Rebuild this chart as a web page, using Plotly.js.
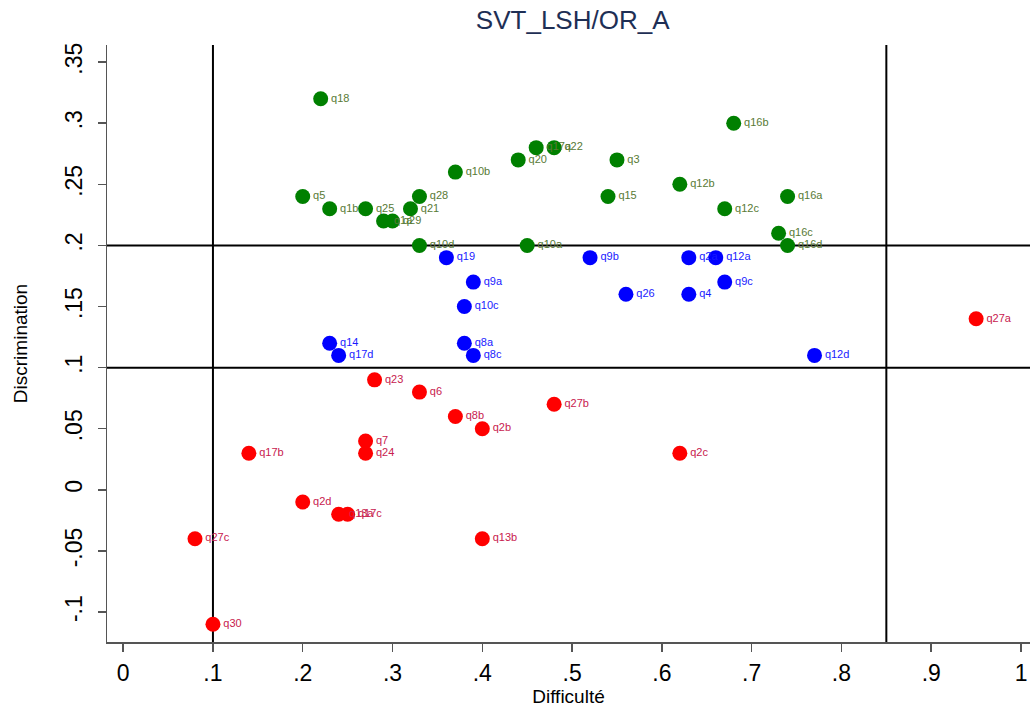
<!DOCTYPE html>
<html><head><meta charset="utf-8">
<script src="https://cdn.plot.ly/plotly-3.0.1.min.js"></script>
<style>body{margin:0;background:#fff}#chart{width:1030px;height:707px}</style>
</head><body><div id="chart"></div>
<script>
// Green group (discrimination >= .2)
const greenLabels = ["q18","q16b","q17a","q22","q20","q3","q10b","q12b","q5","q28","q15","q16a","q1b","q25","q21","q12c","q1a","q29","q16c","q10d","q10a","q16d"];
const greenX = [0.22,0.68,0.46,0.48,0.44,0.55,0.37,0.62,0.20,0.33,0.54,0.74,0.23,0.27,0.32,0.67,0.29,0.30,0.73,0.33,0.45,0.74];
const greenY = [0.32,0.30,0.28,0.28,0.27,0.27,0.26,0.25,0.24,0.24,0.24,0.24,0.23,0.23,0.23,0.23,0.22,0.22,0.21,0.20,0.20,0.20];
// Blue group (.1 < discrimination < .2)
const blueLabels = ["q19","q9b","q2a","q12a","q9a","q9c","q26","q4","q10c","q14","q8a","q17d","q8c","q12d"];
const blueX = [0.36,0.52,0.63,0.66,0.39,0.67,0.56,0.63,0.38,0.23,0.38,0.24,0.39,0.77];
const blueY = [0.19,0.19,0.19,0.19,0.17,0.17,0.16,0.16,0.15,0.12,0.12,0.11,0.11,0.11];
// Red group
const redLabels = ["q27a","q23","q6","q27b","q8b","q2b","q7","q24","q17b","q2c","q2d","q13a","q17c","q27c","q13b","q30"];
const redX = [0.95,0.28,0.33,0.48,0.37,0.40,0.27,0.27,0.14,0.62,0.20,0.24,0.25,0.08,0.40,0.10];
const redY = [0.14,0.09,0.08,0.07,0.06,0.05,0.04,0.03,0.03,0.03,-0.01,-0.02,-0.02,-0.04,-0.04,-0.11];

const xTickVals = [0,0.1,0.2,0.3,0.4,0.5,0.6,0.7,0.8,0.9,1];
const xTickText = ["0",".1",".2",".3",".4",".5",".6",".7",".8",".9","1"];
const yTickVals = [-0.1,-0.05,0,0.05,0.1,0.15,0.2,0.25,0.3,0.35];
const yTickText = ["-.1","-.05","0",".05",".1",".15",".2",".25",".3",".35"];
const refX = [0.1, 0.85];
const refY = [0.1, 0.2];

function tr(x,y,labels,mc,tc){
  return {type:'scatter',mode:'markers+text',x:x,y:y,text:labels,
    textposition:'middle right',cliponaxis:false,
    marker:{color:mc,size:15,line:{width:0}},
    textfont:{family:'Liberation Sans, Arial, sans-serif',size:11,color:tc},
    hoverinfo:'text',showlegend:false};
}
const data = [
  tr(greenX,greenY,greenLabels,'#008000','#587a35'),
  tr(blueX,blueY,blueLabels,'#0000ff','#1a1aff'),
  tr(redX,redY,redLabels,'#ff0000','#c8204e')
];
const shapes = [];
refX.forEach(v=>shapes.push({type:'line',xref:'x',yref:'paper',x0:v,x1:v,y0:0,y1:1,line:{color:'#000',width:2},layer:'below'}));
refY.forEach(v=>shapes.push({type:'line',xref:'paper',yref:'y',x0:0,x1:1,y0:v,y1:v,line:{color:'#000',width:2},layer:'below'}));

const layout = {
  width:1030,height:707,
  margin:{l:107,r:0,t:45,b:65},
  paper_bgcolor:'#fff',plot_bgcolor:'#fff',
  font:{family:'Liberation Sans, Arial, sans-serif',color:'#000'},
  title:{text:'SVT_LSH/OR_A',x:0.556,xanchor:'center',y:0.972,yanchor:'middle',font:{size:26,color:'#1e2f55'}},
  xaxis:{range:[-0.018,1.01],tickvals:xTickVals,ticktext:xTickText,ticks:'outside',ticklen:8,tickcolor:'#555',tickwidth:1.5,
    showline:true,linecolor:'#555',linewidth:1.5,showgrid:false,zeroline:false,tickfont:{size:23},ticklabelstandoff:2,
    title:{text:'Difficulté',font:{size:19},standoff:0}},
  yaxis:{range:[-0.1245,0.364],tickvals:yTickVals,ticktext:yTickText,ticks:'outside',ticklen:8,tickcolor:'#555',tickwidth:1.5,
    showline:true,linecolor:'#555',linewidth:1.5,showgrid:false,zeroline:false,tickfont:{size:23},tickangle:-90,ticklabelstandoff:6,
    title:{text:'Discrimination',font:{size:19},standoff:28}},
  shapes:shapes
};
Plotly.newPlot('chart',data,layout,{displayModeBar:false,staticPlot:true});
</script></body></html>
